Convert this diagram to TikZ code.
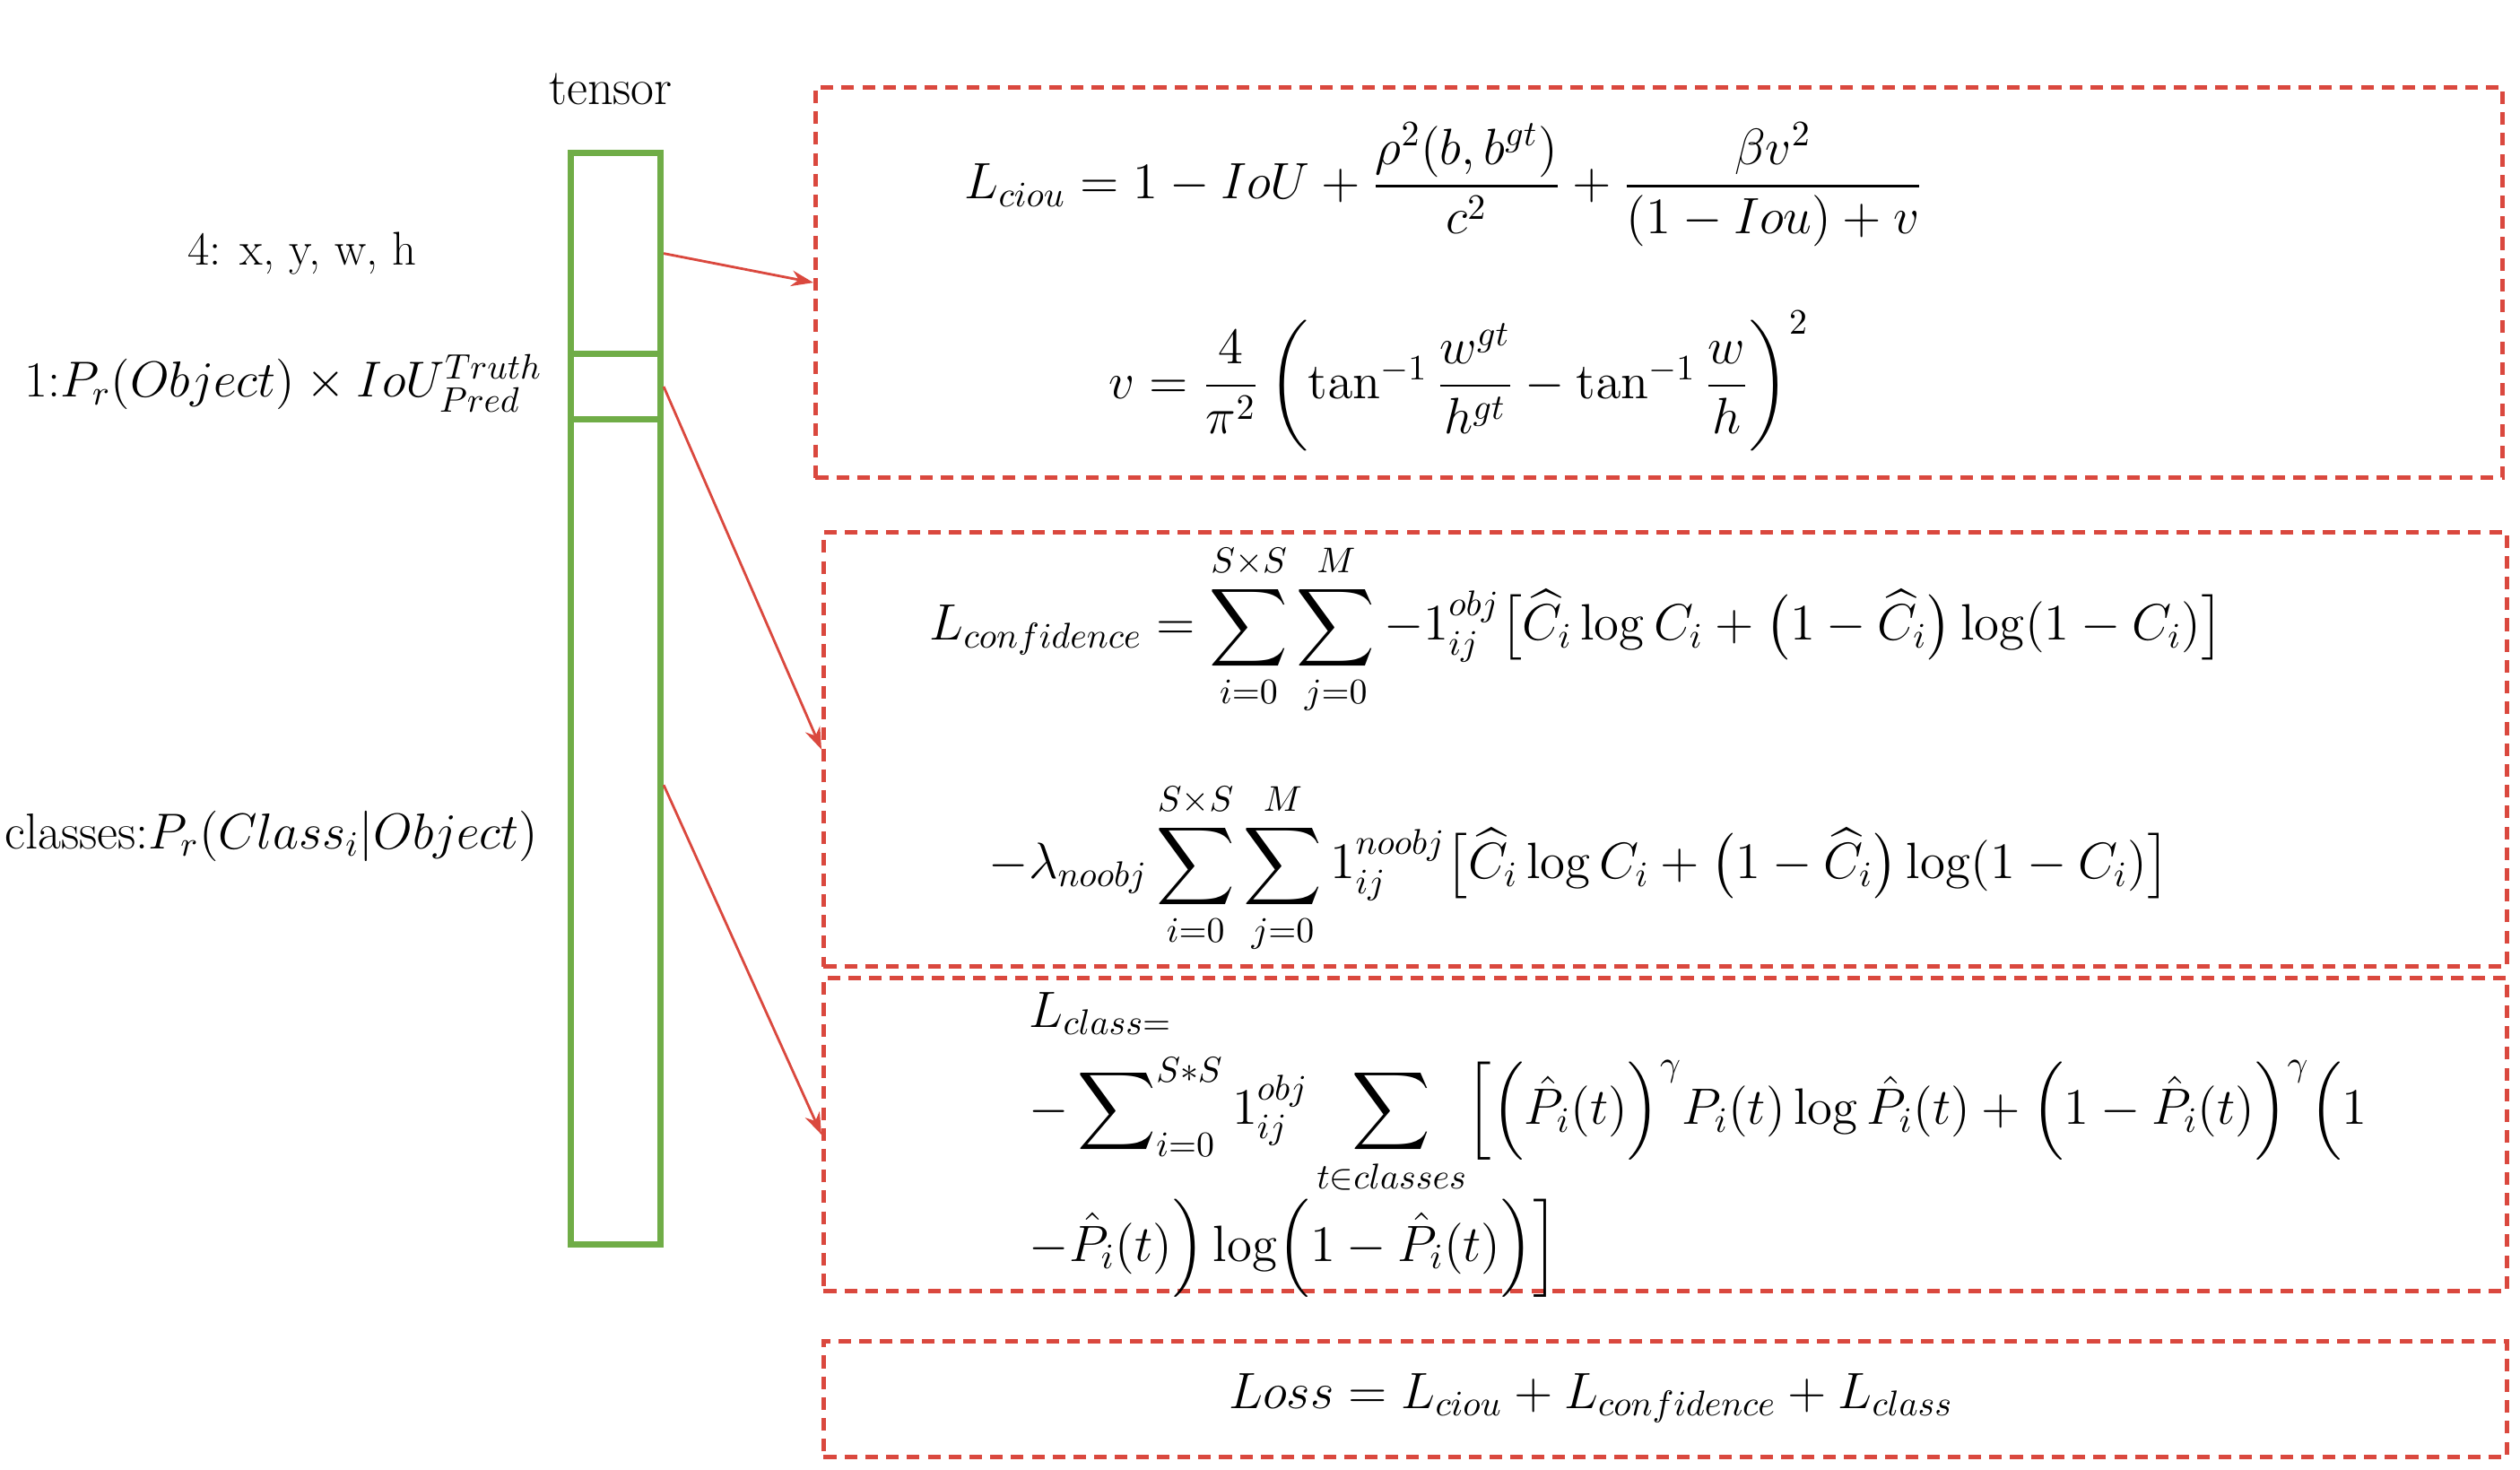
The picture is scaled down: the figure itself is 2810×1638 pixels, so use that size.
\RequirePackage{fix-cm}
\documentclass[tikz,border=0pt]{standalone}
\usepackage{amsmath}
\usetikzlibrary{arrows.meta,calc}
\definecolor{boxred}{RGB}{218,72,62}
\definecolor{bargreen}{RGB}{112,173,71}
\begin{document}
\begin{tikzpicture}[x=0.01cm,y=-0.01cm,
  lossbox/.style={draw=boxred,dashed,dash pattern=on 4pt off 2.6pt,line width=1.4pt,rectangle,inner sep=0pt,anchor=north west},
  barseg/.style={draw=bargreen,line width=2pt,rectangle,inner sep=0pt,anchor=north west,minimum width=1cm},
  link/.style={draw=boxred,line width=0.8pt,-{Stealth[length=7pt,width=5pt]}},
  lbl/.style={inner sep=0pt,font=\fontsize{16}{19}\selectfont},
  eq/.style={inner sep=0pt,anchor=west,font=\fontsize{16.2}{19.5}\selectfont}]
\useasboundingbox (0,0) rectangle (2810,1638);
% tensor bar
\node[lbl] (tensor) at (681,99) {tensor};
\node[barseg,minimum height=2.24cm] (seg1) at (633,167) {};
\node[barseg,minimum height=0.73cm] (seg2) at (633,391) {};
\node[barseg,minimum height=9.19cm] (seg3) at (633,464) {};
% left labels
\node[lbl,font=\fontsize{15}{18}\selectfont] (lab1) at (337,283) {4: x, y, w, h};
\node[lbl,anchor=west] (lab2) at (27,427) {1:$P_r(Object)\times IoU_{Pred}^{Truth}$};
\node[lbl,anchor=west] (lab3) at (5,932) {classes:$P_r(Class_i|Object)$};
% boxes
\node[lossbox,minimum width=18.8cm,minimum height=4.35cm] (box1) at (907,95) {};
\node[lossbox,minimum width=18.76cm,minimum height=4.84cm] (box2) at (916,591) {};
\node[lossbox,minimum width=18.76cm,minimum height=3.49cm] (box3) at (916,1088) {};
\node[lossbox,minimum width=18.76cm,minimum height=1.29cm] (box4) at (916,1493) {};
% formulas
\node[eq] (f1) at (1075,206) {$L_{ciou}=1-IoU+\dfrac{\rho^2(b,b^{gt})}{c^2}+\dfrac{\beta v^2}{(1-Iou)+v}$};
\node[eq] (f2) at (1236,425) {$v=\dfrac{4}{\pi^2}\left(\tan^{-1}\dfrac{w^{gt}}{h^{gt}}-\tan^{-1}\dfrac{w}{h}\right)^2$};
\node[eq] (f3) at (1036,702) {$\displaystyle L_{confidence}=\sum_{i=0}^{S\times S}\sum_{j=0}^{M}-1_{ij}^{obj}\bigl[\widehat{C}_i\log C_i+\bigl(1-\widehat{C}_i\bigr)\log(1-C_i)\bigr]$};
\node[eq] (f4) at (1102,968) {$\displaystyle -\lambda_{noobj}\sum_{i=0}^{S\times S}\sum_{j=0}^{M}1_{ij}^{noobj}\bigl[\widehat{C}_i\log C_i+\bigl(1-\widehat{C}_i\bigr)\log(1-C_i)\bigr]$};
\node[eq] (f5) at (1147,1130) {$L_{class=}$};
\node[eq] (f6) at (1147,1256) {$\displaystyle -\sum\nolimits_{i=0}^{S*S}1_{ij}^{obj}\sum_{t\in classes}\Bigl[\Bigl(\hat{P}_i(t)\Bigr)^{\gamma}P_i(t)\log\hat{P}_i(t)+\Bigl(1-\hat{P}_i(t)\Bigr)^{\gamma}\Bigl(1$};
\node[eq] (f7) at (1147,1392) {$-\hat{P}_i(t)\Bigr)\log\Bigl(1-\hat{P}_i(t)\Bigr)\Bigr]$};
\node[eq,anchor=center] (f8) at (1774,1559) {$Loss=L_{ciou}+L_{confidence}+L_{class}$};
% connectors
\draw[link] (seg1.east) -- (box1.west);
\draw[link] (seg2.east) -- (box2.west);
\draw[link] ([yshift=0.52cm]seg3.east) -- (box3.west);
\end{tikzpicture}
\end{document}
